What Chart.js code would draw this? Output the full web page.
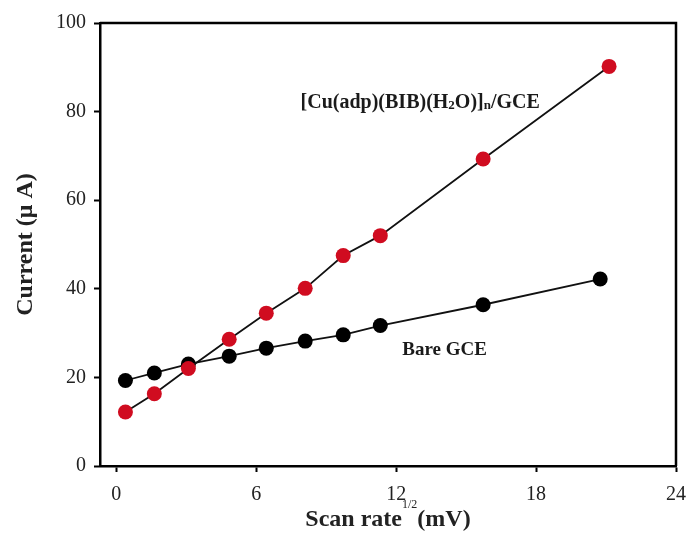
<!DOCTYPE html>
<html>
<head>
<meta charset="utf-8">
<script src="https://cdn.jsdelivr.net/npm/chart.js@4/dist/chart.umd.min.js"></script>
<style>
html,body{margin:0;padding:0;background:#fff;}
#wrap{width:689px;height:533px;}
</style>
</head>
<body>
<div id="wrap"><canvas id="c" width="689" height="533"></canvas></div>
<script>
const scanRate = [0.39, 1.63, 3.09, 4.84, 6.43, 8.10, 9.73, 11.32, 15.73, 20.75];
const scanRateCu = [0.39, 1.63, 3.09, 4.84, 6.43, 8.10, 9.73, 11.32, 15.73, 21.13];
const bareGCE = [19.3, 21.0, 23.0, 24.8, 26.6, 28.2, 29.6, 31.7, 36.4, 42.2];
const cuGCE = [12.2, 16.3, 22.0, 28.6, 34.5, 40.1, 47.5, 52.0, 69.3, 90.2];
const xTicks = [0, 6, 12, 18, 24];
const yTicks = [0, 20, 40, 60, 80, 100];
const labelCu = {x: 7.9, y: 82};
const labelBare = {x: 12.26, y: 26.2};

const serif = '"Liberation Serif", "DejaVu Serif", serif';
const toPts = (xs, ys) => xs.map((x, i) => ({x: x, y: ys[i]}));

const annot = {
  id: 'annot',
  afterDraw(chart) {
    const ctx = chart.ctx;
    const xs = chart.scales.x, ys = chart.scales.y;
    const a = chart.chartArea;
    ctx.save();
    ctx.strokeStyle = '#000';
    ctx.lineWidth = 2.5;
    ctx.beginPath();
    ctx.moveTo(a.left, a.top);
    ctx.lineTo(a.right, a.top);
    ctx.lineTo(a.right, a.bottom);
    ctx.stroke();
    ctx.fillStyle = '#1a1a1a';
    ctx.textBaseline = 'middle';
    ctx.textAlign = 'left';
    let x = xs.getPixelForValue(labelCu.x);
    let y = ys.getPixelForValue(labelCu.y);
    const big = '600 20px ' + serif, small = '600 13px ' + serif;
    const parts = [['[Cu(adp)(BIB)(H', big, 0], ['2', small, 3], ['O)]', big, 0], ['n', small, 3], ['/GCE', big, 0]];
    for (const [t, f, dy] of parts) {
      ctx.font = f;
      ctx.fillText(t, x, y + dy);
      x += ctx.measureText(t).width;
    }
    ctx.font = '600 19px ' + serif;
    ctx.fillText('Bare GCE', xs.getPixelForValue(labelBare.x), ys.getPixelForValue(labelBare.y));
    const tb = 'bold 24px ' + serif, ts = '12px ' + serif;
    const tparts = [['Scan rate', tb, 0], ['1/2', ts, -15], ['(mV)', tb, 0]];
    let w = 0;
    for (const [t, f] of tparts) { ctx.font = f; w += ctx.measureText(t).width; }
    let tx = (a.left + a.right) / 2 - w / 2;
    const ty = 520;
    ctx.fillStyle = '#222';
    for (const [t, f, dy] of tparts) {
      ctx.font = f;
      ctx.fillText(t, tx, ty + dy);
      tx += ctx.measureText(t).width;
    }
    ctx.restore();
  }
};

new Chart(document.getElementById('c'), {
  type: 'scatter',
  data: {
    datasets: [
      {
        label: '[Cu(adp)(BIB)(H2O)]n/GCE',
        data: toPts(scanRateCu, cuGCE),
        showLine: true,
        borderColor: '#111',
        borderWidth: 1.8,
        pointRadius: 7.5,
        pointBackgroundColor: 'rgb(208,12,32)',
        pointBorderColor: 'rgb(208,12,32)',
        pointBorderWidth: 0,
        order: 0
      },
      {
        label: 'Bare GCE',
        data: toPts(scanRate, bareGCE),
        showLine: true,
        borderColor: '#111',
        borderWidth: 1.8,
        pointRadius: 7.5,
        pointBackgroundColor: '#000',
        pointBorderColor: '#000',
        pointBorderWidth: 0,
        order: 1
      }
    ]
  },
  options: {
    responsive: false,
    animation: false,
    events: [],
    layout: {padding: {top: 23, right: 13, bottom: 0, left: 0}},
    plugins: {legend: {display: false}, tooltip: {enabled: false}},
    scales: {
      x: {
        type: 'linear', min: -0.7, max: 24,
        afterBuildTicks: s => { s.ticks = xTicks.map(v => ({value: v})); },
        afterFit: s => { s.height = 67; },
        afterUpdate: s => { s.paddingRight = 0; },
        grid: {drawOnChartArea: false, drawTicks: true, tickLength: 6, tickWidth: 2, tickColor: '#000'},
        border: {display: true, color: '#000', width: 2.5},
        ticks: {color: '#222', padding: 11, font: {family: serif, size: 20}, maxRotation: 0}
      },
      y: {
        type: 'linear', min: 0, max: 100,
        afterBuildTicks: s => { s.ticks = yTicks.map(v => ({value: v})); },
        afterFit: s => { s.width = 100; },
        grid: {drawOnChartArea: false, drawTicks: true, tickLength: 6, tickWidth: 2, tickColor: '#000'},
        border: {display: true, color: '#000', width: 2.5},
        ticks: {color: '#222', padding: 8, font: {family: serif, size: 20}},
        title: {display: true, text: 'Current (\u03bc A)', color: '#222', font: {family: serif, size: 24, weight: 'bold'}, padding: {top: 11, bottom: 0}}
      }
    }
  },
  plugins: [annot]
});
</script>
</body>
</html>
